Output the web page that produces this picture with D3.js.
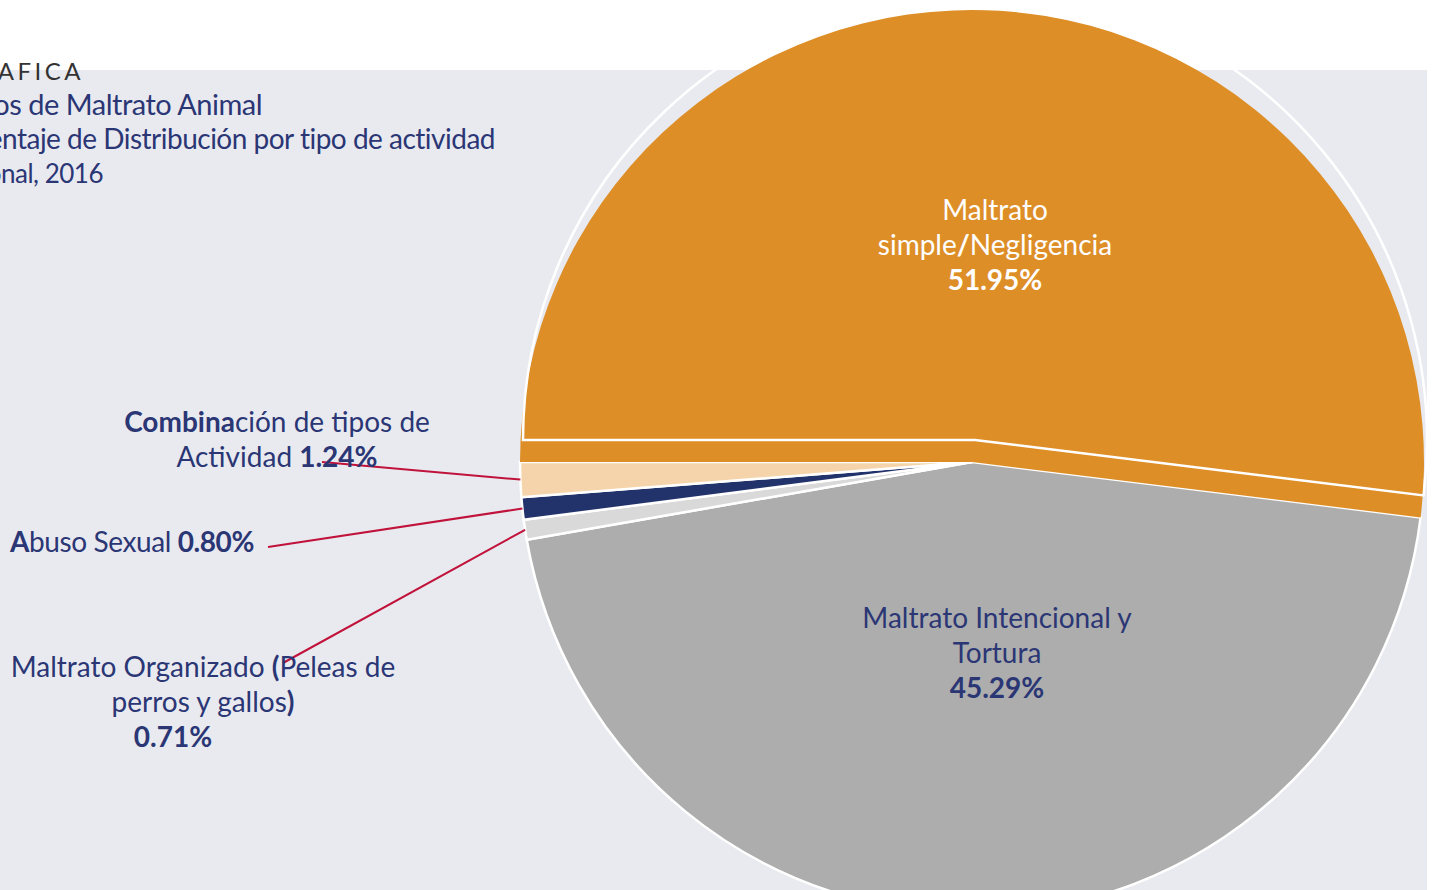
<!DOCTYPE html>
<html>
<head>
<meta charset="utf-8">
<title>Tipos de Maltrato Animal</title>
<script src="https://cdn.jsdelivr.net/npm/d3@7"></script>
<style>
  body { margin: 0; background: #fff; }
  svg { display: block; font-family: Lato, "Open Sans", sans-serif; }
</style>
</head>
<body>
<svg width="1434" height="890" id="chart"></svg>
<script>
// data
var categories = ["Maltrato simple/Negligencia", "Maltrato Intencional y Tortura",
  "Maltrato Organizado (Peleas de perros y gallos)", "Abuso Sexual", "Combinación de tipos de Actividad"];
var values = [51.95, 45.29, 0.71, 0.80, 1.24];
var colors = ["#DD8E27", "#ADADAD", "#D9D9D9", "#22336B", "#F5D4AB"];
var titleLines = ["GRAFICA", "Tipos de Maltrato Animal", "Porcentaje de Distribución por tipo de actividad", "Nacional, 2016"];

// label text, split in runs [text, bold]; "%v" is replaced with the value
var labelLines = [
  [[["Maltrato", 0]], [["simple", 0], ["/", 1], ["Negligencia", 0]], [["%v", 1]]],
  [[["Maltrato Intencional y", 0]], [["Tortura", 0]], [["%v", 1]]],
  [[["Maltrato Organizado ", 0], ["(", 1], ["Peleas de", 0]], [["perros y gallos", 0], [")", 1]], [["%v", 1]]],
  [[["A", 1], ["buso Sexual ", 0], ["%v", 1]]],
  [[["Combina", 1], ["ción de tipos de", 0]], [["Actividad ", 0], ["%v", 1]]]
];

var width = 1434, height = 890;
var cx = 972, cy = 462, radius = 452;
var navy = "#2B3675";

var svg = d3.select("#chart");

// panel
svg.append("rect")
  .attr("x", 0).attr("y", 70)
  .attr("width", 1427).attr("height", height - 70)
  .attr("fill", "#E9EAF0");

// title, cut at the left edge like the original
var titleX = [84, 262, 495, 103];
var titleY = [80, 115, 149, 183];
var titleSize = [24, 29, 28, 26];
titleLines.forEach(function(t, i) {
  svg.append("text")
    .attr("x", titleX[i]).attr("y", titleY[i])
    .attr("text-anchor", "end")
    .attr("font-size", titleSize[i])
    .attr("letter-spacing", i == 0 ? 3.5 : -0.5)
    .attr("fill", i == 0 ? "#333" : navy)
    .text(t);
});

var pie = d3.pie().sort(null)
  .startAngle(-Math.PI / 2)
  .endAngle(1.5 * Math.PI);
var arcs = pie(values);
var arc = d3.arc().innerRadius(0).outerRadius(radius);

var g = svg.append("g").attr("transform", "translate(" + cx + "," + cy + ")");

// small slices + gray one with white borders
g.selectAll("path.slice")
  .data(arcs.slice(1))
  .enter().append("path")
  .attr("class", "slice")
  .attr("d", arc)
  .attr("fill", function(d) { return colors[d.index]; })
  .attr("stroke", "#fff")
  .attr("stroke-width", 2.5);

// big slice: fill in place, white outline drawn shifted (exploded look)
g.append("path").datum(arcs[0])
  .attr("d", arc)
  .attr("fill", colors[0]);
g.append("path").datum(arcs[0])
  .attr("d", arc)
  .attr("fill", "none")
  .attr("stroke", "#fff")
  .attr("stroke-width", 2.5)
  .attr("transform", "translate(3,-22)");

// leader lines for the thin slices
var labelEnd = {2: [283, 663], 3: [268, 547], 4: [322, 462]};
var outer = d3.arc().innerRadius(radius).outerRadius(radius);
[2, 3, 4].forEach(function(i) {
  var p = outer.centroid(arcs[i]);
  svg.append("line")
    .attr("x1", labelEnd[i][0]).attr("y1", labelEnd[i][1])
    .attr("x2", cx + p[0]).attr("y2", cy + p[1])
    .attr("stroke", "#C0123A")
    .attr("stroke-width", 2);
});

// labels: centre x, first baseline y
var labelPos = [[995, 220], [997, 628], [203, 677], [10, 552], [277, 432]];
var lineH = 35;
labelLines.forEach(function(lines, i) {
  var t = svg.append("text")
    .attr("font-size", 28)
    .attr("letter-spacing", i == 3 ? -0.4 : 0)
    .attr("fill", i == 0 ? "#fff" : navy)
    .attr("text-anchor", i == 3 ? "start" : "middle");
  lines.forEach(function(runs, j) {
    var line = t.append("tspan")
      .attr("x", labelPos[i][0] - (i == 2 && j == 2 ? 30 : 0))
      .attr("y", labelPos[i][1] + j * lineH);
    runs.forEach(function(r) {
      line.append("tspan")
        .attr("font-weight", r[1] ? 700 : 400)
        .text(r[0].replace("%v", values[i].toFixed(2) + "%"));
    });
  });
});
</script>
</body>
</html>
